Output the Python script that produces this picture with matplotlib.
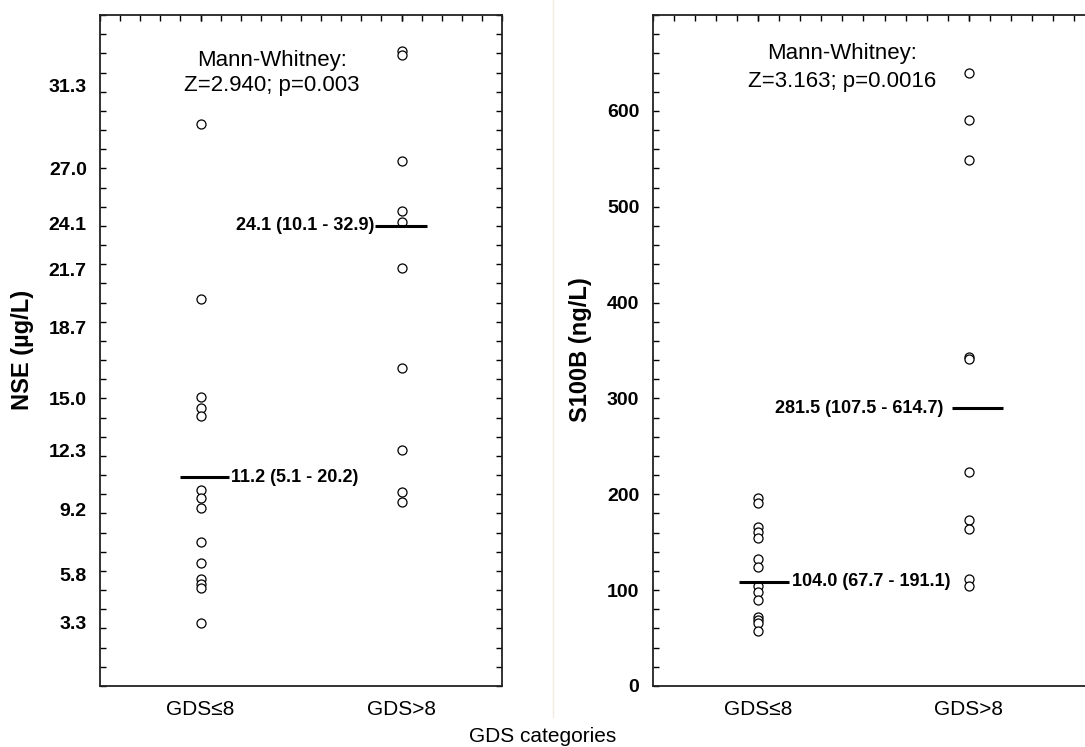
"""
NSE and S100B by GDS category: individual values with median lines.
"""

from __future__ import annotations

import matplotlib

matplotlib.use("Agg")
import matplotlib.pyplot as plt
from matplotlib.lines import Line2D
from matplotlib.ticker import FixedLocator, MultipleLocator

# ── Data ────────────────────────────────────────────────────────────────────
categories = ["GDS≤8", "GDS>8"]

nse_low = [29.3, 20.2, 15.1, 14.5, 14.1, 10.2, 9.8, 9.3, 7.5, 6.4, 5.6, 5.3, 5.1, 3.3]
nse_high = [33.1, 32.9, 27.4, 24.8, 24.2, 21.8, 16.6, 12.3, 10.1, 9.6]
nse_median_y = [10.9, 24.0]
nse_median_txt = ["11.2 (5.1 - 20.2)", "24.1 (10.1 - 32.9)"]
nse_ticklabels = [3.3, 5.8, 9.2, 12.3, 15.0, 18.7, 21.7, 24.1, 27.0, 31.3]
nse_stats = "Mann-Whitney:\nZ=2.940; p=0.003"

s100_low = [196, 191, 166, 161, 154, 133, 124, 104, 98, 90, 72, 69, 66, 57]
s100_high = [640, 590, 549, 343, 341, 223, 173, 164, 112, 104]
s100_median_y = [109, 290]
s100_median_txt = ["104.0 (67.7 - 191.1)", "281.5 (107.5 - 614.7)"]
s100_ticklabels = [0, 100, 200, 300, 400, 500, 600]
s100_stats = "Mann-Whitney:\nZ=3.163; p=0.0016"

FONT = ["Liberation Sans", "DejaVu Sans"]
W, H = 1085, 747


def px(x0, y0, w, h):
    """Pixel box (top-left origin) -> figure fraction rect."""
    return [x0 / W, (H - y0 - h) / H, w / W, h / H]


def style_axes(ax, yticks, minor_step):
    ax.set_xticks([0, 1], categories)
    ax.xaxis.set_minor_locator(MultipleLocator(0.1))
    ax.xaxis.remove_overlapping_locs = False
    ax.tick_params(axis="x", which="both", bottom=False, top=True,
                   direction="in", length=4, width=1, pad=10, labelsize=15)
    ax.yaxis.set_major_locator(FixedLocator(yticks))
    ax.set_yticklabels([f"{v:.1f}" if isinstance(v, float) else str(v) for v in yticks],
                       fontweight="bold")
    ax.yaxis.set_minor_locator(MultipleLocator(minor_step))
    ax.yaxis.remove_overlapping_locs = False
    ax.tick_params(axis="y", which="major", left=False, right=False, pad=6, labelsize=14)
    ax.tick_params(axis="y", which="minor", left=True, right=True,
                   direction="in", length=4, width=1)
    for s in ax.spines.values():
        s.set_color("#222222")
        s.set_linewidth(1.3)


def draw_group(ax, lo, hi, med_y, med_txt, spans, txt_x, txt_ha):
    for i, vals in enumerate([lo, hi]):
        ax.plot([i] * len(vals), vals, "o", ms=6.5, mfc="white", mec="black",
                mew=0.9, ls="none", zorder=3)
        ax.plot([i + spans[i][0], i + spans[i][1]], [med_y[i]] * 2,
                color="black", lw=2.2, zorder=4, solid_capstyle="butt")
        ax.text(i + txt_x[i], med_y[i], med_txt[i], ha=txt_ha[i], va="center",
                fontsize=13, fontweight="bold", family=FONT)


def main() -> None:
    plt.rcParams["font.family"] = FONT
    fig = plt.figure(figsize=(W / 100, H / 100), dpi=100)

    # ── Left panel: NSE ─────────────────────────────────────────────────────
    ax1 = fig.add_axes(px(100, 15, 402, 671))
    ax1.set_xlim(-0.5, 1.5)
    ax1.set_ylim(0, 35)
    style_axes(ax1, nse_ticklabels, 1)
    draw_group(ax1, nse_low, nse_high, nse_median_y, nse_median_txt,
               spans=[(-0.1, 0.14), (-0.13, 0.125)],
               txt_x=[0.15, -0.135], txt_ha=["left", "right"])
    ax1.text(0.428, 0.9135, nse_stats, transform=ax1.transAxes, ha="center",
             va="center", fontsize=16, linespacing=1.3)

    # ── Right panel: S100B (runs past the right edge of the image) ─────────
    ax2 = fig.add_axes(px(652.5, 15, 464, 671))
    ax2.set_xlim(-0.5, 1.7)
    ax2.set_ylim(0, 700)
    style_axes(ax2, s100_ticklabels, 20)
    draw_group(ax2, s100_low, s100_high, s100_median_y, s100_median_txt,
               spans=[(-0.09, 0.147), (-0.08, 0.16)],
               txt_x=[0.16, -0.12], txt_ha=["left", "right"])
    ax2.text(0.398, 0.922, s100_stats, ha="center", va="center",
             transform=ax2.get_xaxis_transform(), fontsize=16, linespacing=1.4)

    # ── Axis titles ─────────────────────────────────────────────────────────
    fig.text(22 / W, 1 - 350 / H, "NSE (µg/L)", rotation=90, ha="center",
             va="center", fontsize=17, fontweight="bold")
    fig.text(580 / W, 1 - 350 / H, "S100B (ng/L)", rotation=90, ha="center",
             va="center", fontsize=17, fontweight="bold")
    fig.text(543 / W, 1 - 737 / H, "GDS categories", ha="center", va="center",
             fontsize=15)

    # faint seam between the two pasted panels
    fig.add_artist(Line2D([553 / W] * 2, [30 / H, 1], color="#f1ecdf", lw=1))

    fig.savefig("out.png", dpi=100, facecolor="white")


if __name__ == "__main__":
    main()
